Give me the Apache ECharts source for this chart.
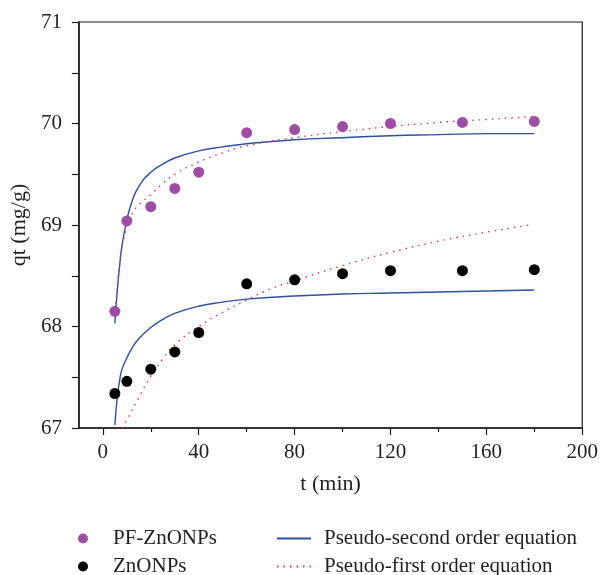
<!DOCTYPE html>
<html>
<head>
<meta charset="utf-8">
<script src="https://cdn.jsdelivr.net/npm/echarts@6/dist/echarts.min.js"></script>
<style>html,body{margin:0;padding:0;background:#fff}#c{width:601px;height:575px}</style>
</head>
<body>
<div id="c"></div>
<script>
// Measured points
var tPoints = [5, 10, 20, 30, 40, 60, 80, 100, 120, 150, 180];
var pfZnO = [68.15, 69.04, 69.18, 69.36, 69.52, 69.91, 69.94, 69.97, 70.0, 70.01, 70.02];
var znO = [67.34, 67.46, 67.58, 67.75, 67.94, 68.42, 68.46, 68.52, 68.55, 68.55, 68.56];

// Fitted curves
var tPF2 = [5, 6, 7, 8, 10, 12, 15, 20, 25, 30, 40, 50, 60, 80, 100, 120, 140, 160, 180];
var pfSecond = [68.03, 68.35, 68.6, 68.8, 69.05, 69.22, 69.38, 69.52, 69.6, 69.66, 69.73, 69.77, 69.8, 69.84, 69.86, 69.88, 69.89, 69.9, 69.9];
var tPF1 = [5, 6, 7, 8, 10, 12, 15, 20, 25, 30, 40, 50, 60, 80, 100, 120, 140, 160, 180];
var pfFirst = [68.1, 68.4, 68.62, 68.78, 68.98, 69.1, 69.2, 69.3, 69.41, 69.5, 69.62, 69.71, 69.78, 69.86, 69.92, 69.97, 70.01, 70.04, 70.07];
var tZ2 = [5, 6, 7, 8, 10, 12, 15, 20, 25, 30, 40, 50, 60, 80, 100, 120, 140, 160, 180];
var znSecond = [67.03, 67.3, 67.47, 67.58, 67.69, 67.78, 67.88, 67.99, 68.07, 68.13, 68.2, 68.24, 68.27, 68.3, 68.32, 68.33, 68.34, 68.35, 68.36];
var tZ1 = [8, 10, 15, 20, 25, 30, 40, 50, 60, 70, 80, 100, 120, 140, 160, 178];
var znFirst = [67.0, 67.08, 67.3, 67.51, 67.68, 67.82, 68.0, 68.14, 68.26, 68.37, 68.45, 68.6, 68.73, 68.84, 68.93, 69.0];

var xMajor = [0, 40, 80, 120, 160, 200];
var xMinor = [20, 60, 100, 140, 180];

function zip(a, b) { return a.map(function (v, i) { return [v, b[i]]; }); }

var FONT = '"Liberation Serif", "DejaVu Serif", serif';
var AX = '#1a1a1a';
var TXT = '#231f20';
var PURPLE = '#9d4ea4';
var BLUE = '#2f4f9f';
var RED = '#e8343c';

var chart = echarts.init(document.getElementById('c'));
chart.setOption({
  animation: false,
  textStyle: { fontFamily: FONT },
  grid: { left: 78, right: 17, top: 22, bottom: 147, show: true, borderColor: AX, borderWidth: 1.2, containLabel: false },
  xAxis: [{
    type: 'value', min: -10, max: 200,
    name: 't (min)', nameLocation: 'middle', nameGap: 45,
    nameTextStyle: { fontFamily: FONT, fontSize: 22, color: TXT },
    axisLine: { show: true, onZero: false, lineStyle: { color: AX, width: 1.5 } },
    axisTick: { show: true, length: 7, customValues: xMajor, lineStyle: { color: AX, width: 1.2 } },
    axisLabel: { customValues: xMajor, margin: 14, fontFamily: FONT, fontSize: 21, color: TXT },
    splitLine: { show: false }
  }, {
    type: 'value', min: -10, max: 200, position: 'bottom',
    axisLine: { show: false, onZero: false },
    axisTick: { show: true, length: 4, customValues: xMinor, lineStyle: { color: AX, width: 1.2 } },
    axisLabel: { show: false },
    splitLine: { show: false }
  }],
  yAxis: {
    type: 'value', min: 67, max: 71, interval: 0.5,
    name: 'qt (mg/g)', nameLocation: 'middle', nameGap: 46, nameRotate: 90,
    nameTextStyle: { fontFamily: FONT, fontSize: 22, color: TXT },
    axisLine: { show: true, onZero: false, lineStyle: { color: AX, width: 1.5 } },
    axisTick: { show: true, length: 7, lineStyle: { color: AX, width: 1.2 } },
    axisLabel: {
      margin: 17, fontFamily: FONT, fontSize: 21, color: TXT,
      formatter: function (v) { return Math.abs(v - Math.round(v)) < 1e-9 ? String(Math.round(v)) : ''; }
    },
    splitLine: { show: false }
  },
  legend: [{
    orient: 'vertical', left: 73, top: 523, height: 80, itemGap: 7, itemWidth: 10, itemHeight: 10,
    textStyle: { fontFamily: FONT, fontSize: 21, color: TXT, padding: [0, 0, 0, 20] },
    data: [{ name: 'PF-ZnONPs', icon: 'circle' }, { name: 'ZnONPs', icon: 'circle' }]
  }, {
    orient: 'vertical', left: 271, top: 523, height: 80, itemGap: 7, itemWidth: 34, itemHeight: 10,
    textStyle: { fontFamily: FONT, fontSize: 21, color: TXT, padding: [0, 0, 0, 8] },
    data: [{ name: 'Pseudo-second order equation', itemStyle: { opacity: 0 } },
           { name: 'Pseudo-first order equation', itemStyle: { opacity: 0 } }]
  }],
  series: [
    { name: 'Pseudo-second order equation', type: 'line', smooth: true, symbol: 'none', showSymbol: false,
      data: zip(tPF2, pfSecond), lineStyle: { color: BLUE, width: 1.4 }, itemStyle: { color: BLUE }, z: 2 },
    { name: 'Pseudo-second order equation', type: 'line', smooth: true, symbol: 'none', showSymbol: false,
      data: zip(tZ2, znSecond), lineStyle: { color: BLUE, width: 1.4 }, itemStyle: { color: BLUE }, z: 2 },
    { name: 'Pseudo-first order equation', type: 'line', smooth: true, symbol: 'none', showSymbol: false,
      data: zip(tPF1, pfFirst), lineStyle: { color: RED, width: 1.4, type: [1.5, 5] }, itemStyle: { color: RED }, z: 2 },
    { name: 'Pseudo-first order equation', type: 'line', smooth: true, symbol: 'none', showSymbol: false,
      data: zip(tZ1, znFirst), lineStyle: { color: RED, width: 1.4, type: [1.5, 5] }, itemStyle: { color: RED }, z: 2 },
    { name: 'PF-ZnONPs', type: 'scatter', symbol: 'circle', symbolSize: 11,
      data: zip(tPoints, pfZnO), itemStyle: { color: PURPLE, opacity: 1 }, z: 3 },
    { name: 'ZnONPs', type: 'scatter', symbol: 'circle', symbolSize: 11,
      data: zip(tPoints, znO), itemStyle: { color: '#000', opacity: 1 }, z: 3 }
  ]
});
</script>
</body>
</html>
